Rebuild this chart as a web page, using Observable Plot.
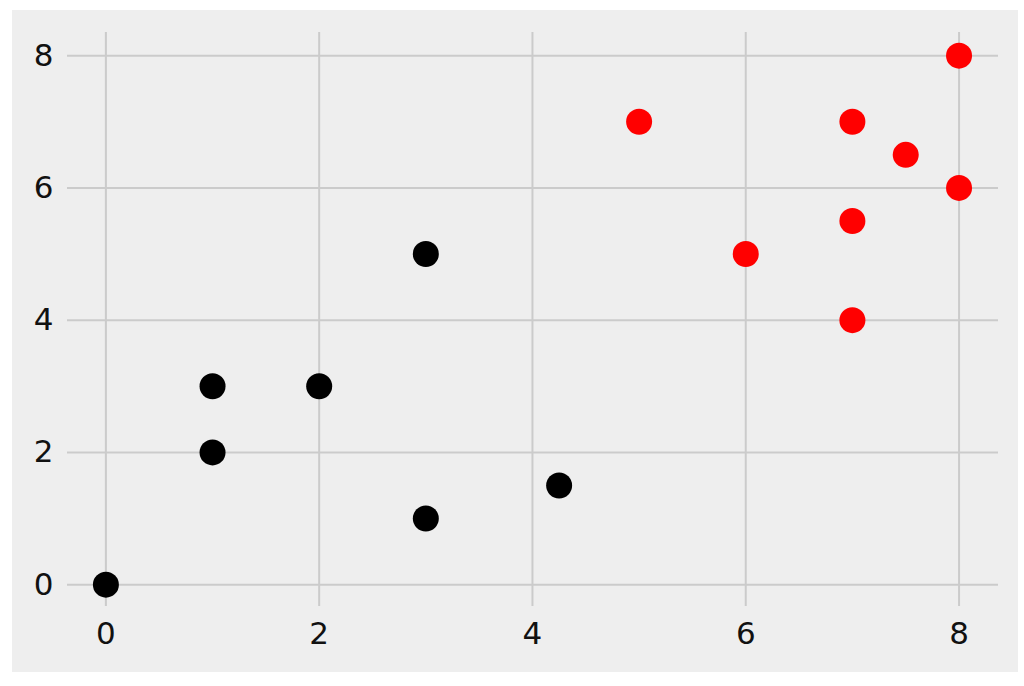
<!DOCTYPE html>
<html>
<head>
<meta charset="utf-8">
<script src="https://cdn.jsdelivr.net/npm/d3@7"></script>
<script src="https://cdn.jsdelivr.net/npm/@observablehq/plot@0.6"></script>
<style>
  html, body { margin: 0; padding: 0; background: #ffffff; }
  #wrap { padding: 10px 0 0 12px; width: 1006px; }
  #wrap svg { background: #eeeeee; display: block; }
</style>
</head>
<body>
<div id="wrap"></div>
<script>
// Data
const blackX = [0, 1, 1, 2, 3, 3, 4.25];
const blackY = [0, 2, 3, 3, 1, 5, 1.5];
const redX = [5, 6, 7, 7, 7, 7.5, 8, 8];
const redY = [7, 5, 4, 5.5, 7, 6.5, 6, 8];
const xTicks = [0, 2, 4, 6, 8];
const yTicks = [0, 2, 4, 6, 8];

const black = blackX.map((x, i) => ({x, y: blackY[i]}));
const red = redX.map((x, i) => ({x, y: redY[i]}));

const chart = Plot.plot({
  width: 1006,
  height: 662,
  marginLeft: 55,
  marginRight: 20,
  marginTop: 22,
  marginBottom: 66,
  style: {
    fontFamily: "'DejaVu Sans', sans-serif",
    fontSize: "31px",
    color: "#111",
    background: "#eeeeee",
    overflow: "visible"
  },
  x: {domain: [-0.36, 8.37], ticks: xTicks},
  y: {domain: [-0.33, 8.35], ticks: yTicks},
  marks: [
    Plot.gridX(xTicks, {stroke: "#cbcbcb", strokeOpacity: 1, strokeWidth: 2}),
    Plot.gridY(yTicks, {stroke: "#cbcbcb", strokeOpacity: 1, strokeWidth: 2}),
    Plot.axisX(xTicks, {tickSize: 0, tickPadding: 15, fontSize: 31, fill: "#111", label: null, tickFormat: d => String(d)}),
    Plot.axisY(yTicks, {tickSize: 0, tickPadding: 14, fontSize: 31, fill: "#111", label: null, tickFormat: d => String(d)}),
    Plot.dot(black, {x: "x", y: "y", r: 13, fill: "#000000", stroke: "none"}),
    Plot.dot(red, {x: "x", y: "y", r: 13, fill: "#ff0000", stroke: "none"})
  ]
});
document.getElementById("wrap").appendChild(chart);
</script>
</body>
</html>
